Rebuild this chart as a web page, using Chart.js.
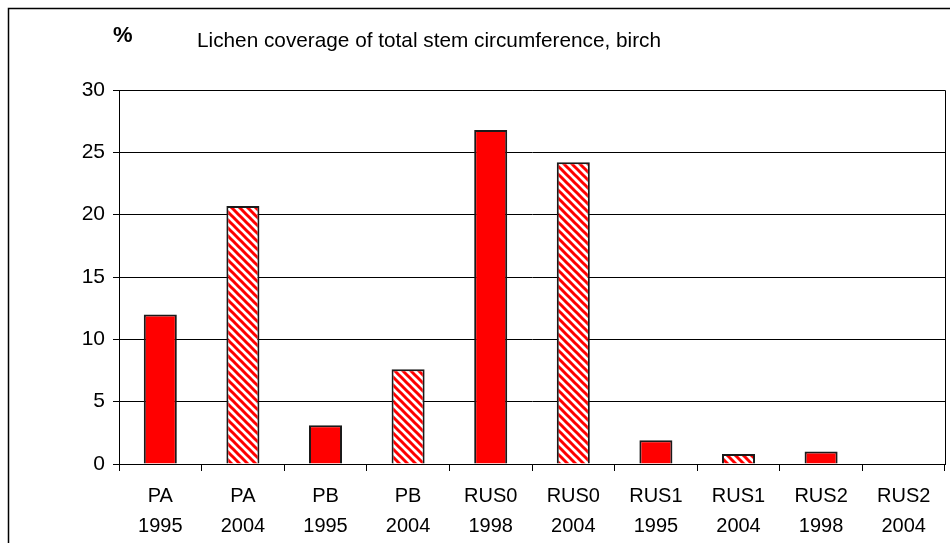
<!DOCTYPE html>
<html>
<head>
<meta charset="utf-8">
<script src="https://cdn.jsdelivr.net/npm/chart.js@4/dist/chart.umd.min.js"></script>
<style>
  html, body { margin: 0; padding: 0; background: #fff; }
  #wrap { width: 950px; height: 543px; position: relative; }
</style>
</head>
<body>
<div id="wrap"><canvas id="chart"></canvas></div>
<script>
const sites = ["PA", "PA", "PB", "PB", "RUS0", "RUS0", "RUS1", "RUS1", "RUS2", "RUS2"];
const years = ["1995", "2004", "1995", "2004", "1998", "2004", "1995", "2004", "1998", "2004"];
const coverage = [12.0, 20.7, 3.1, 7.6, 26.8, 24.2, 1.9, 0.8, 1.0, 0];
const yMin = 0, yMax = 30, yStep = 5;

const FONT = "'Liberation Sans', Arial, sans-serif";

function stripes() {
  const c = document.createElement("canvas");
  c.width = 8; c.height = 8;
  const g = c.getContext("2d");
  g.fillStyle = "#fff";
  g.fillRect(0, 0, 8, 8);
  g.strokeStyle = "#ff0000";
  g.lineWidth = 3;
  for (const k of [-8, 0, 8]) {
    g.beginPath();
    g.moveTo(-2, -2 + k);
    g.lineTo(10, 10 + k);
    g.stroke();
  }
  return g.createPattern(c, "repeat");
}

const hatch = stripes();
// 1995/1998 solid, 2004 hatched
const fills = years.map(y => (y === "2004" ? hatch : "#ff0000"));

const frame = {
  id: "frame",
  afterDraw(chart) {
    const ctx = chart.ctx;
    const a = chart.chartArea;
    ctx.save();
    ctx.strokeStyle = "#000";
    ctx.lineWidth = 1.5;
    ctx.beginPath();
    ctx.moveTo(8.5, 543);
    ctx.lineTo(8.5, 8.5);
    ctx.lineTo(950, 8.5);
    ctx.stroke();
    ctx.lineWidth = 1;
    ctx.beginPath();
    ctx.moveTo(a.left, a.top + 0.5);
    ctx.lineTo(a.right + 0.5, a.top + 0.5);
    ctx.lineTo(a.right + 0.5, a.bottom);
    ctx.stroke();
    ctx.fillStyle = "#000";
    ctx.textBaseline = "alphabetic";
    ctx.textAlign = "left";
    ctx.font = "bold 22px " + FONT;
    ctx.fillText("%", 113, 42);
    ctx.font = "21px " + FONT;
    ctx.fillText("Lichen coverage of total stem circumference, birch", 197, 47, 464);
    ctx.restore();
  }
};

new Chart(document.getElementById("chart"), {
  type: "bar",
  data: {
    labels: sites.map((s, i) => [s, years[i]]),
    datasets: [{
      data: coverage,
      backgroundColor: fills,
      borderColor: "#1a1a1a",
      borderWidth: 2,
      barPercentage: 0.4,
      categoryPercentage: 1.0
    }]
  },
  options: {
    responsive: true,
    maintainAspectRatio: false,
    animation: false,
    layout: { padding: { top: 90, right: 5, left: 0, bottom: 0 } },
    plugins: { legend: { display: false }, tooltip: { enabled: false }, title: { display: false } },
    scales: {
      x: {
        grid: { drawOnChartArea: false, color: "#000", tickLength: 7, offset: true },
        border: { display: true, color: "#000", width: 1 },
        ticks: {
          color: "#000",
          font: { family: FONT, size: 20, lineHeight: 1.5 },
          padding: 10,
          maxRotation: 0,
          autoSkip: false
        },
        afterFit(scale) { scale.height = 79; }
      },
      y: {
        min: yMin,
        max: yMax,
        grid: { color: "#000", tickLength: 6, lineWidth: 1 },
        border: { display: true, color: "#000", width: 1 },
        ticks: {
          stepSize: yStep,
          color: "#000",
          font: { family: FONT, size: 21 },
          padding: 8
        },
        afterFit(scale) { scale.width = 119; }
      }
    }
  },
  plugins: [frame]
});
</script>
</body>
</html>
